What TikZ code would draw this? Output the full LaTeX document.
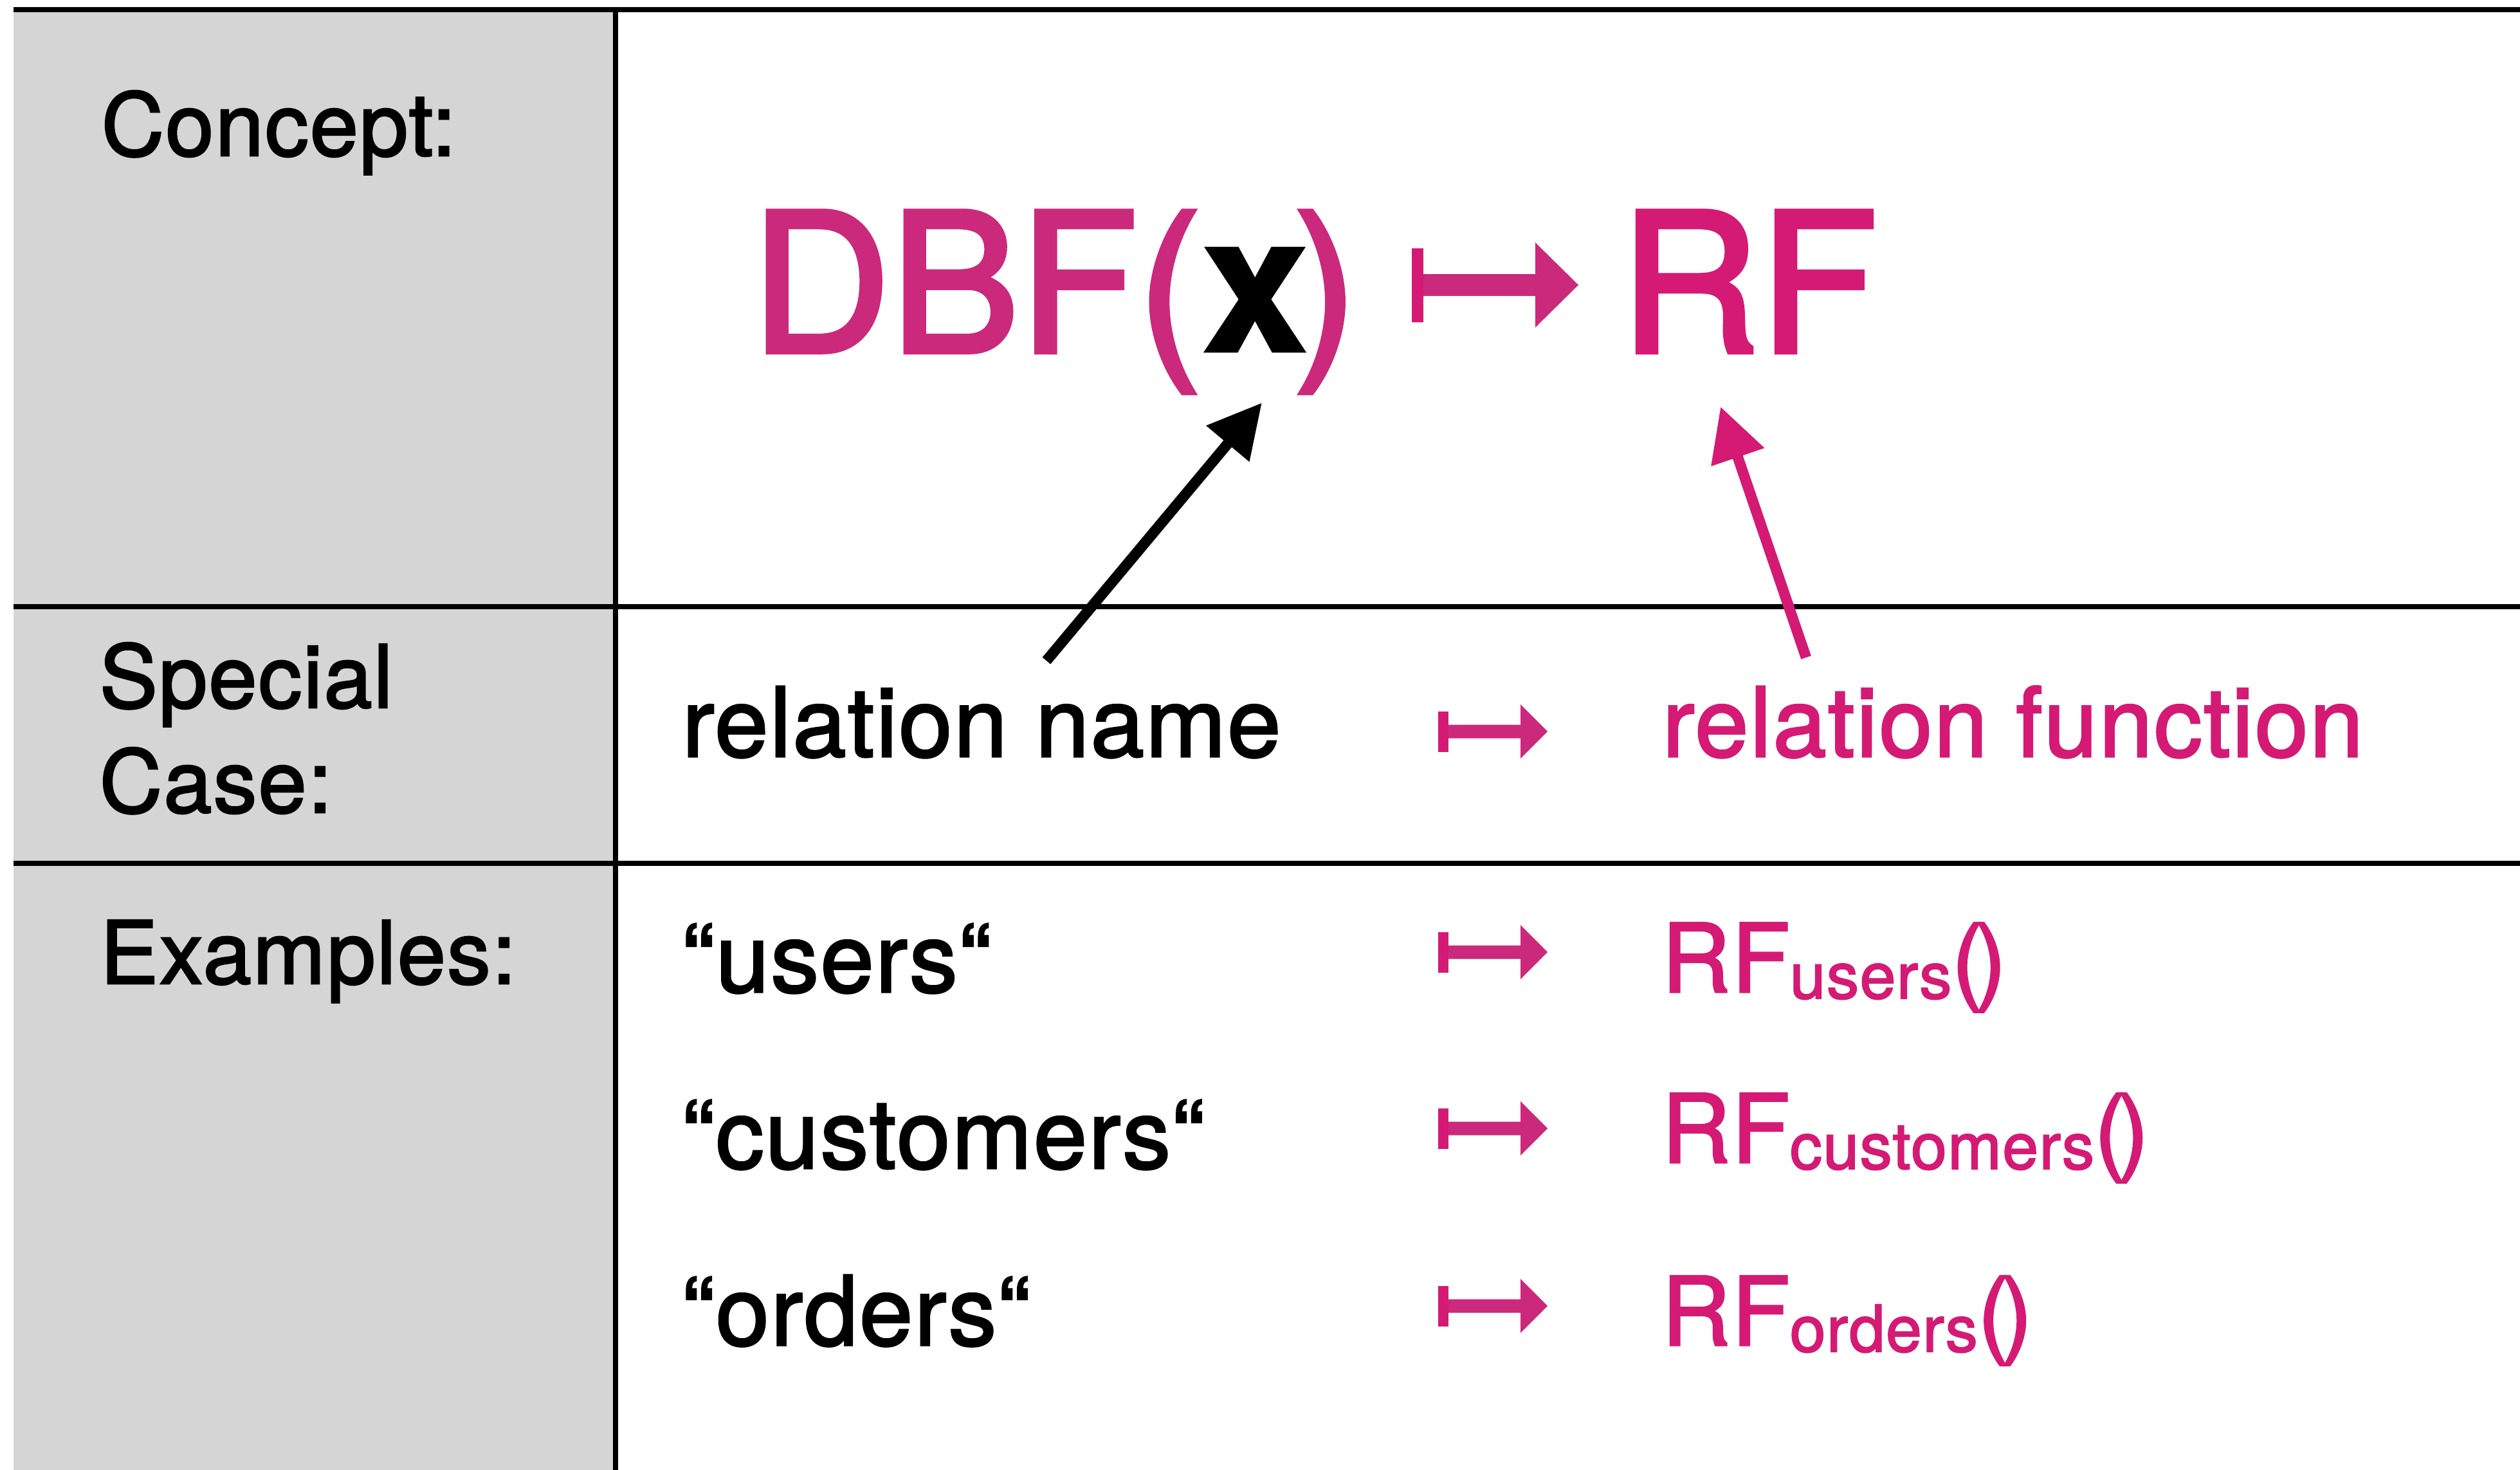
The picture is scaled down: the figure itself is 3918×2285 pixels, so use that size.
\documentclass[tikz,border=0pt]{standalone}
\usepackage{fontspec}
\setmainfont{TeX Gyre Heros}[FakeBold=2, LetterSpace=1.5]
\newfontfamily\displayfont{TeX Gyre Heros}[FakeBold=2.5]
\newfontfamily\varfont{TeX Gyre Heros}[FakeBold=0.8]
\usetikzlibrary{arrows.meta}
\definecolor{dbfpink}{RGB}{203,41,123}
\definecolor{rfpink}{RGB}{212,26,116}
\definecolor{headgray}{RGB}{213,213,213}
\newcommand{\subtext}[1]{\lower2.85pt\hbox{\fontsize{28.5}{30}\selectfont #1}}
\newcommand{\emptyparens}{(\kern-0.09em)}
\begin{document}
\begin{tikzpicture}[x=0.01cm, y=-0.01cm,
  rule/.style={line width=0.08cm},
  headtext/.style={anchor=base west, inner sep=0pt, font=\fontsize{38.5}{46}\selectfont},
  celltext/.style={anchor=base west, inner sep=0pt, font=\fontsize{42.6}{50}\selectfont},
  rftext/.style={anchor=base west, inner sep=0pt, font=\fontsize{42}{50}\selectfont, text=rfpink},
  bigtext/.style={anchor=base west, inner sep=0pt, font=\displayfont\fontsize{85.4}{95}\selectfont},
  pointer/.style={line width=0.165cm, -{Triangle[length=0.83cm, width=0.83cm]}},
  smallmaps/.pic={
    \fill[rfpink] (0,-31.5) rectangle (16,31.5);
    \fill[dbfpink] (16,-10.5) -- (128,-10.5) -- (128,-42) -- (170,0)
      -- (128,42) -- (128,10.5) -- (16,10.5) -- cycle;
  },
  bigmaps/.pic={
    \fill[rfpink] (0,-57.5) rectangle (18,57.5);
    \fill[dbfpink] (18,-17) -- (192,-17) -- (192,-66) -- (259,0)
      -- (192,66) -- (192,17) -- (18,17) -- cycle;
  }]
\useasboundingbox (0,0) rectangle (3918,2285);
\fill[white] (0,0) rectangle (3918,2285);

% header column and table rules
\fill[headgray] (21,15) rectangle (957,2285);
\draw[rule] (21,15) -- (3918,15);
\draw[rule] (21,943) -- (3918,943);
\draw[rule] (21,1342) -- (3918,1342);
\draw[rule] (957,15) -- (957,2285);

% row headings
\node[headtext] (concept) at (157,242) {Concept:};
\node[headtext] (specialA) at (154,1100) {Special};
\node[headtext] (specialB) at (154,1263) {Case:};
\node[headtext] (examples) at (155,1529) {Examples:};

% concept row
\node[bigtext, text=dbfpink] (dbf) at (1167,547)
  {DBF({\varfont\bfseries\color{black}x}\kern-0.08em)};
\pic at (2195,443) {bigmaps};
\node[bigtext, text=rfpink] (rf) at (2518,547) {RF};

% special case row
\node[celltext] (relname) at (1060,1176) {relation name};
\pic at (2236,1137) {smallmaps};
\node[celltext, text=rfpink] (relfun) at (2584,1176) {relation function};

% examples
\node[celltext] (exusers) at (1060,1542) {“users“};
\node[celltext] (excust) at (1060,1816) {“customers“};
\node[celltext] (exorders) at (1060,2091) {“orders“};
\pic at (2236,1480) {smallmaps};
\pic at (2236,1754) {smallmaps};
\pic at (2236,2030) {smallmaps};
\node[rftext] (rfusers) at (2583,1542) {RF\subtext{users}\emptyparens};
\node[rftext] (rfcust) at (2583,1807) {RF\subtext{customers}\emptyparens};
\node[rftext] (rforders) at (2583,2091) {RF\subtext{orders}\emptyparens};

% pointers from the special case up to the concept
\coordinate (nametail) at (1627,1027);
\coordinate (xtip) at (1962,626);
\coordinate (funtail) at (2808,1022);
\coordinate (rftip) at (2675,632);
\draw[pointer, black] (nametail) -- (xtip);
\draw[pointer, rfpink] (funtail) -- (rftip);
\end{tikzpicture}
\end{document}
